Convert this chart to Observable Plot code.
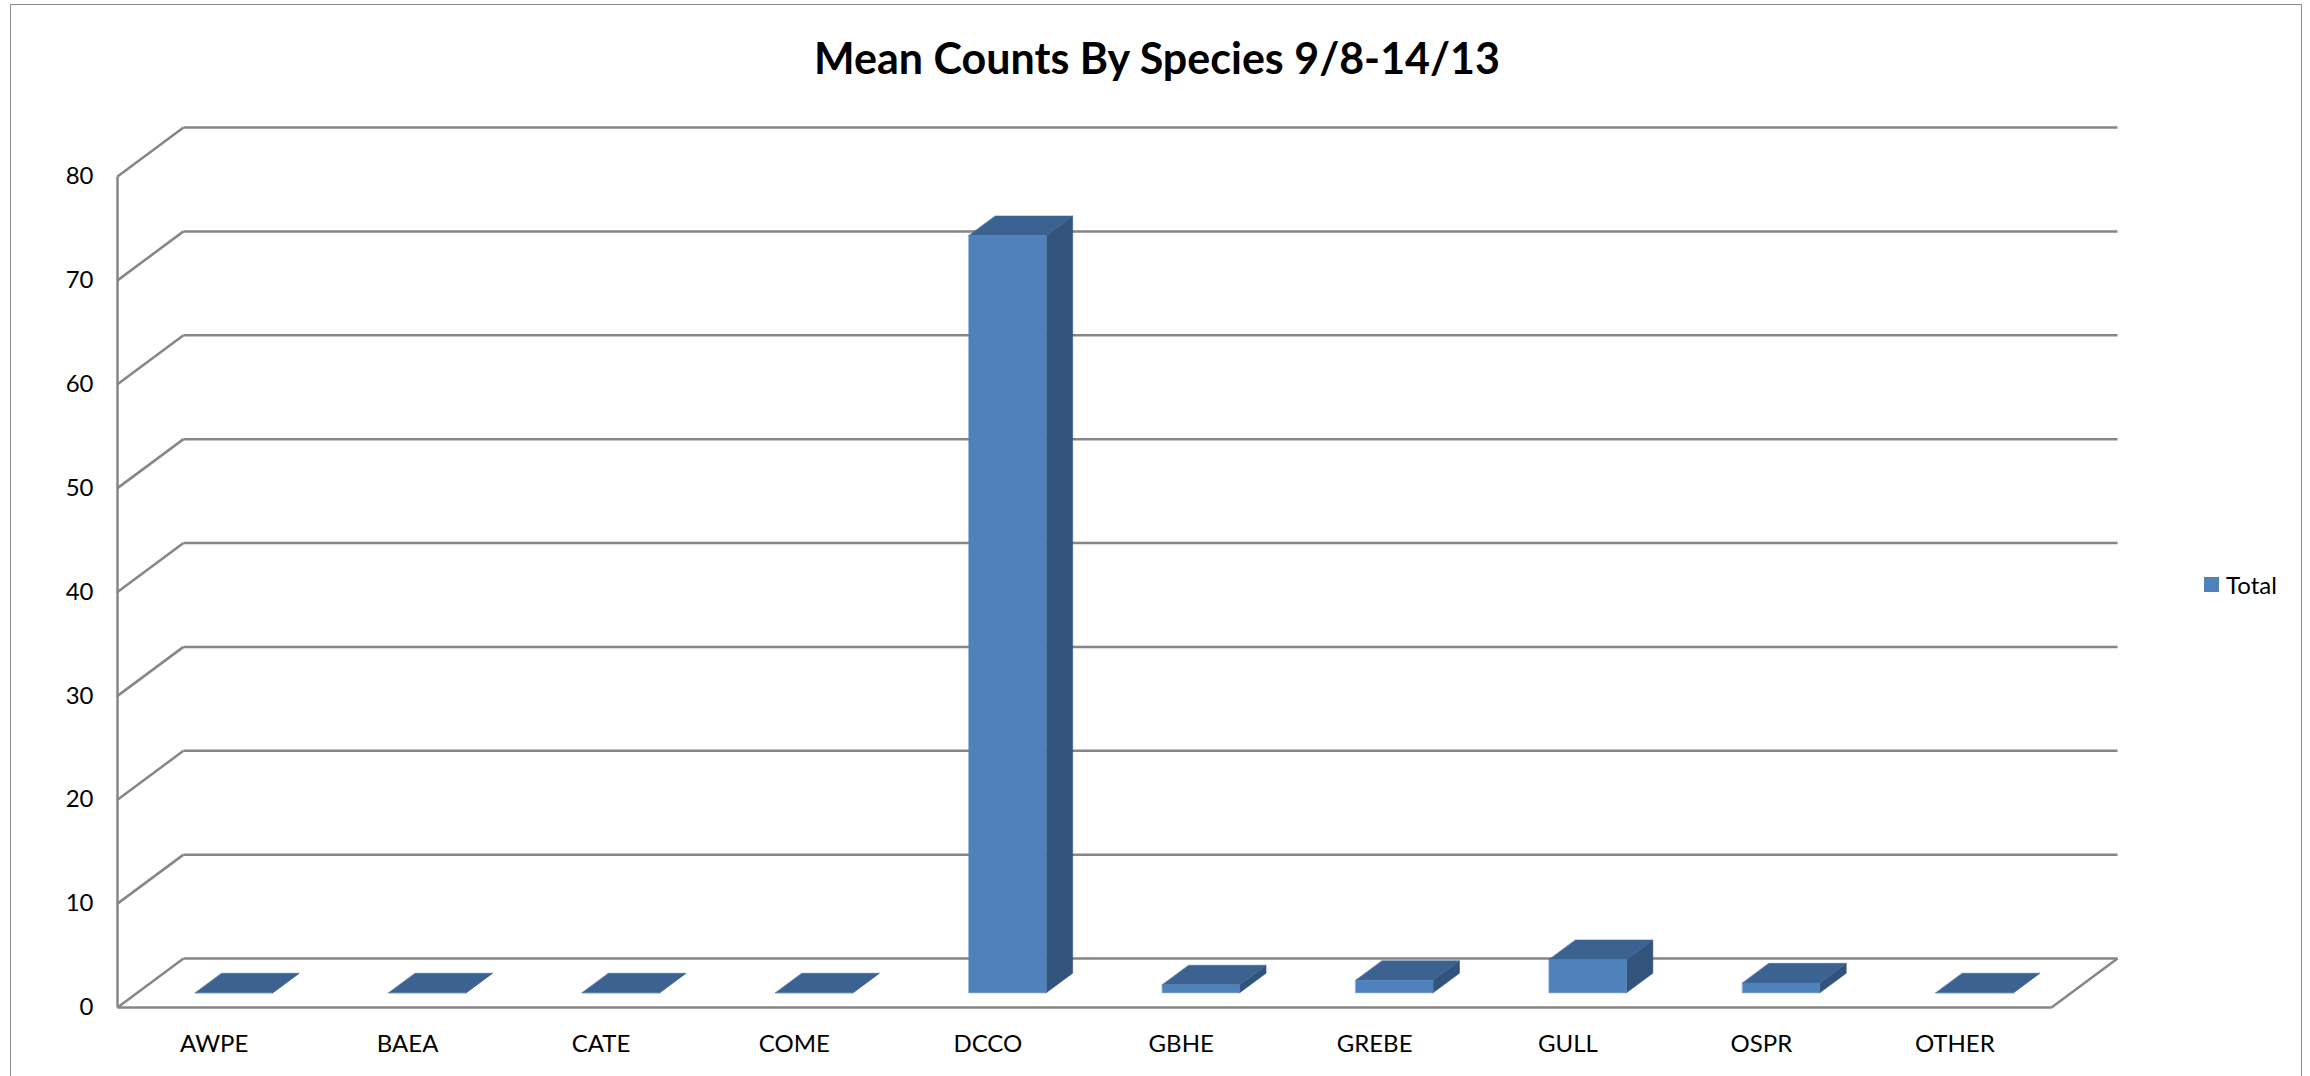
<!DOCTYPE html>
<html>
<head>
<meta charset="utf-8">
<script src="https://cdn.jsdelivr.net/npm/d3@7"></script>
<script src="https://cdn.jsdelivr.net/npm/@observablehq/plot@0.6"></script>
<style>
  html, body { margin: 0; padding: 0; background: #fff; overflow: hidden; }
  #wrap { position: relative; width: 2310px; height: 1076px; font-family: Lato, "Open Sans", sans-serif; }
  #border { position: absolute; left: 10px; top: 4px; width: 2292px; height: 1090px; border: 1.5px solid #8c8c8c; box-sizing: border-box; }
  #chart { position: absolute; left: 0; top: 0; }
  #title { position: absolute; left: 0; top: 32px; width: 2314px; text-align: center; font-size: 43px; font-weight: 700; line-height: 1.2; color: #000; }
  #legend { position: absolute; left: 2204px; top: 569px; height: 30px; display: flex; align-items: center; gap: 7px; font-size: 24px; color: #000; }
  #legend .sw { width: 15px; height: 15px; background: #4f81bd; }
</style>
</head>
<body>
<div id="wrap">
  <div id="border"></div>
  <div id="chart"></div>
  <div id="title">Mean Counts By Species 9/8-14/13</div>
  <div id="legend"><div class="sw"></div><div>Total</div></div>
</div>
<script>
// ---- data ----
const categories = ["AWPE", "BAEA", "CATE", "COME", "DCCO", "GBHE", "GREBE", "GULL", "OSPR", "OTHER"];
const totals = [0, 0, 0, 0, 72.9, 0.77, 1.2, 3.2, 0.95, 0];
const yTicks = [0, 10, 20, 30, 40, 50, 60, 70, 80];
const seriesName = "Total";

// ---- layout ----
const W = 2310, H = 1076;
const mL = 117, mR = 259, mT = 176, mB = 69;
const yMax = 80;
const depthPx = [66, -49];           // oblique depth offset in pixels
const pxPerIndex = (W - mL - mR) / categories.length;
const pxPerUnit = (H - mT - mB) / yMax;
const DX = depthPx[0] / pxPerIndex;  // depth expressed in x-data units
const DY = -depthPx[1] / pxPerUnit;  // depth expressed in y-data units
const proj = (xi, v, d) => ({x: xi + d * DX, y: v + d * DY});

const barW = 0.4, d0 = 0.3, d1 = 0.7;

// build faces
const fronts = [], tops = [], sides = [];
categories.forEach((c, i) => {
  const v = totals[i];
  const x0 = i + 0.5 - barW / 2, x1 = i + 0.5 + barW / 2;
  const push = (arr, id, pts) => pts.forEach(p => arr.push({...proj(...p), id}));
  push(fronts, c + "-f", [[x0, 0, d0], [x1, 0, d0], [x1, v, d0], [x0, v, d0]]);
  push(tops, c + "-t", [[x0, v, d0], [x1, v, d0], [x1, v, d1], [x0, v, d1]]);
  push(sides, c + "-s", [[x1, 0, d0], [x1, 0, d1], [x1, v, d1], [x1, v, d0]]);
});

// grid lines
const gridLinks = [];
yTicks.forEach(t => {
  const a = proj(0, t, 1), b = proj(categories.length, t, 1), f = proj(0, t, 0);
  gridLinks.push({x1: a.x, y1: a.y, x2: b.x, y2: b.y});   // back wall line
  gridLinks.push({x1: f.x, y1: f.y, x2: a.x, y2: a.y});   // side wall diagonal
});
const n = categories.length;
const frameLinks = [
  {x1: 0, y1: 0, x2: 0, y2: yTicks[yTicks.length - 1]},
  {x1: 0, y1: 0, x2: n, y2: 0},
  {x1: n, y1: 0, x2: proj(n, 0, 1).x, y2: proj(n, 0, 1).y}
];

const gridColor = "#868686";
const plot = Plot.plot({
  width: W, height: H,
  marginLeft: mL, marginRight: mR, marginTop: mT, marginBottom: mB,
  x: {domain: [0, n], label: null},
  y: {domain: [0, yMax], label: null},
  style: {fontFamily: "Lato, 'Open Sans', sans-serif", background: "transparent", overflow: "visible"},
  marks: [
    Plot.link(gridLinks, {x1: "x1", y1: "y1", x2: "x2", y2: "y2", stroke: gridColor, strokeWidth: 2.5}),
    Plot.link(frameLinks, {x1: "x1", y1: "y1", x2: "x2", y2: "y2", stroke: gridColor, strokeWidth: 2.5}),
    Plot.line(sides, {x: "x", y: "y", z: "id", fill: "#31537c", stroke: "#31537c", strokeWidth: 0.5, curve: "linear-closed"}),
    Plot.line(tops, {x: "x", y: "y", z: "id", fill: "#3c6291", stroke: "#3c6291", strokeWidth: 0.5, curve: "linear-closed"}),
    Plot.line(fronts, {x: "x", y: "y", z: "id", fill: "#4f81bd", stroke: "#4f81bd", strokeWidth: 0.5, curve: "linear-closed"}),
    Plot.axisY(yTicks, {tickSize: 0, tickPadding: 24, fontSize: 24, label: null}),
    Plot.axisX(categories.map((c, i) => i + 0.5), {tickSize: 0, tickPadding: 27, fontSize: 24, label: null,
      tickFormat: d => categories[Math.floor(d)]})
  ]
});
document.getElementById("chart").appendChild(plot);
</script>
</body>
</html>
